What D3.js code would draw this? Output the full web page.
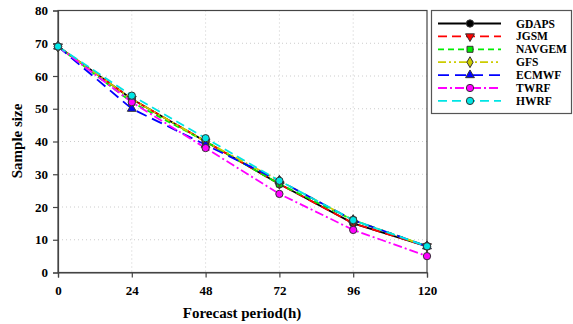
<!DOCTYPE html>
<html><head><meta charset="utf-8">
<script src="https://cdn.jsdelivr.net/npm/d3@7"></script>
<style>
html,body{margin:0;padding:0;background:#fff;}
svg text{font-family:"Liberation Serif","Times New Roman",serif;font-weight:bold;}
</style></head>
<body><svg id="c" width="573" height="324"></svg>
<script>
const periods = [0, 24, 48, 72, 96, 120];
const yTicks = [0, 10, 20, 30, 40, 50, 60, 70, 80];
const seriesNames = ["GDAPS", "JGSM", "NAVGEM", "GFS", "ECMWF", "TWRF", "HWRF"];
const GDAPS  = [69, 53, 40, 27, 15, 8];
const JGSM   = [69, 53, 40, 27, 15, 8];
const NAVGEM = [69, 52, 40, 27, 16, 8];
const GFS    = [69, 53, 40, 28, 16, 8];
const ECMWF  = [69, 50, 39, 28, 16, 8];
const TWRF   = [69, 52, 38, 24, 13, 5];
const HWRF   = [69, 54, 41, 28, 16, 8];
const seriesValues = [GDAPS, JGSM, NAVGEM, GFS, ECMWF, TWRF, HWRF];

const styles = [
  {color:"#000000", dash:null, sym:d3.symbolCircle, rot:0},
  {color:"#ff0000", dash:"9,5", sym:d3.symbolTriangle, rot:180},
  {color:"#00ee00", dash:"6,4", sym:d3.symbolSquare, rot:0},
  {color:"#cccc00", dash:"8,3,2,3,2,3", sym:d3.symbolDiamond, rot:0},
  {color:"#0000ff", dash:"11,6", sym:d3.symbolTriangle, rot:0},
  {color:"#ff00ff", dash:"9,3,2,3", sym:d3.symbolCircle, rot:0},
  {color:"#00e5e5", dash:"9,5", sym:d3.symbolCircle, rot:0}
];
function symSize(t){ return t===d3.symbolSquare?36:(t===d3.symbolTriangle?34:(t===d3.symbolDiamond?34:42)); }

const svg = d3.select("#c");
const L = 58, R = 427, T = 10.5, B = 272.5;
const x = d3.scaleLinear().domain([0,120]).range([L,R]);
const y = d3.scaleLinear().domain([0,80]).range([B,T]);

// grid
const g = svg.append("g");
g.selectAll("line.hy").data(yTicks.filter(v=>v>0&&v<80)).enter().append("line")
  .attr("x1",L).attr("x2",R).attr("y1",d=>y(d)).attr("y2",d=>y(d))
  .attr("stroke","#cccccc").attr("stroke-width",1).attr("stroke-dasharray","1,3");
g.selectAll("line.vx").data(periods.filter(v=>v>0&&v<120)).enter().append("line")
  .attr("y1",T).attr("y2",B).attr("x1",d=>x(d)).attr("x2",d=>x(d))
  .attr("stroke","#cccccc").attr("stroke-width",1).attr("stroke-dasharray","1,3");

// frame
svg.append("rect").attr("x",L).attr("y",T).attr("width",R-L).attr("height",B-T)
  .attr("fill","none").attr("stroke","#444").attr("stroke-width",1.2);

// axes
const xAxis = d3.axisBottom(x).tickValues(periods).tickSize(5).tickPadding(8).tickFormat(d3.format("d"));
const yAxis = d3.axisLeft(y).tickValues(yTicks).tickSize(5).tickPadding(5);
const gx = svg.append("g").attr("transform",`translate(0,${B})`).call(xAxis);
const gy = svg.append("g").attr("transform",`translate(${L},0)`).call(yAxis);
[gx,gy].forEach(a=>{
  a.select(".domain").attr("stroke","#444").attr("stroke-width",1.2);
  a.selectAll(".tick line").attr("stroke","#444").attr("stroke-width",1.2);
  a.selectAll("text").attr("font-size",13).attr("fill","#000")
   .style("font-family","'Liberation Serif',serif").style("font-weight","bold");
});

// titles
svg.append("text").attr("x",242).attr("y",318).attr("text-anchor","middle")
  .attr("font-size",15).text("Forecast period(h)");
svg.append("text").attr("transform","translate(22,141) rotate(-90)").attr("text-anchor","middle")
  .attr("font-size",15).text("Sample size");

// lines
const line = d3.line().x((d,i)=>x(periods[i])).y(d=>y(d));
seriesValues.forEach((vals,k)=>{
  const s = styles[k];
  svg.append("path").attr("d",line(vals)).attr("fill","none")
    .attr("stroke",s.color).attr("stroke-width",1.8)
    .attr("stroke-dasharray",s.dash);
});
// markers
seriesValues.forEach((vals,k)=>{
  const s = styles[k];
  const sym = d3.symbol().type(s.sym).size(symSize(s.sym));
  svg.append("g").selectAll("path").data(vals).enter().append("path")
    .attr("d",sym)
    .attr("transform",(d,i)=>`translate(${x(periods[i])},${y(d)}) rotate(${s.rot})`)
    .attr("fill",s.color).attr("stroke","#333").attr("stroke-width",1);
});

// legend
const lg = svg.append("g");
lg.append("rect").attr("x",431.5).attr("y",10.5).attr("width",140).attr("height",103)
  .attr("fill","#fff").attr("stroke","#555").attr("stroke-width",1.2);
seriesNames.forEach((name,k)=>{
  const s = styles[k];
  const yy = 23.5 + k*12.9;
  lg.append("line").attr("x1",438).attr("x2",501).attr("y1",yy).attr("y2",yy)
    .attr("stroke",s.color).attr("stroke-width",1.8).attr("stroke-dasharray",s.dash);
  const sym = d3.symbol().type(s.sym).size(symSize(s.sym));
  lg.append("path").attr("d",sym).attr("transform",`translate(470,${yy}) rotate(${s.rot})`)
    .attr("fill",s.color).attr("stroke","#333").attr("stroke-width",1);
  lg.append("text").attr("x",516).attr("y",yy+4).attr("font-size",11.5).text(name);
});
</script></body></html>
